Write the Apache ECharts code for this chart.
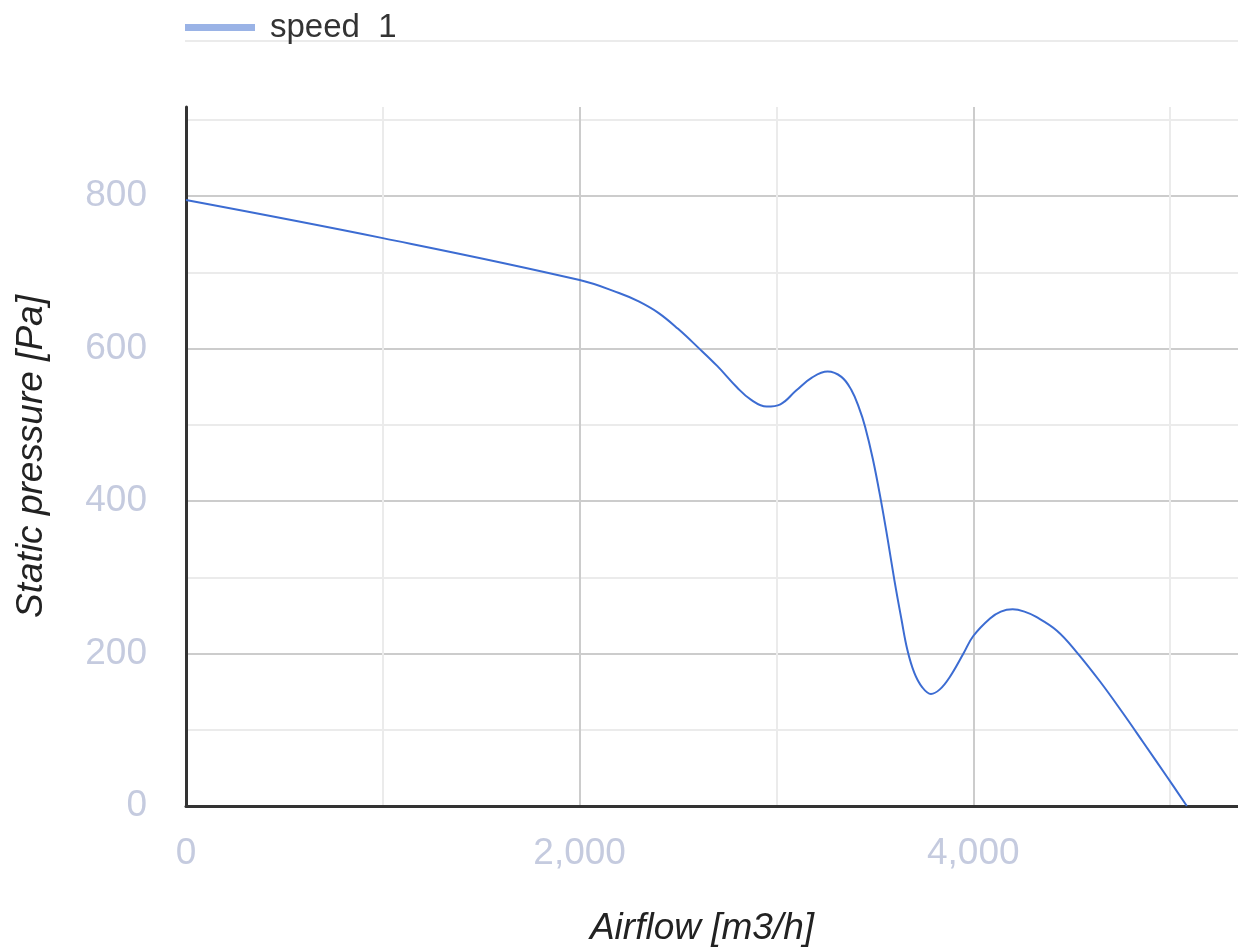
<!DOCTYPE html>
<html>
<head>
<meta charset="utf-8">
<script src="https://cdn.jsdelivr.net/npm/echarts@6/dist/echarts.min.js"></script>
<style>
html,body{margin:0;padding:0;background:#fff;}
#chart{width:1238px;height:949px;}
</style>
</head>
<body>
<div id="chart"></div>
<script>
const seriesName = 'speed  1';
const xTitle = 'Airflow [m3/h]';
const yTitle = 'Static pressure [Pa]';
const airflow = [0, 1000, 2000, 2200, 2300, 2400, 2500, 2600, 2700, 2800, 2870, 2950, 3020, 3100, 3180, 3260, 3330, 3380, 3420, 3450, 3490, 3530, 3565, 3600, 3635, 3665, 3700, 3740, 3785, 3830, 3880, 3950, 4000, 4085, 4140, 4200, 4260, 4320, 4425, 4525, 4645, 4760, 4865, 4985, 5085];
const pressure = [795, 745, 690, 673, 662, 647, 626, 602, 577, 549, 533, 524, 527, 545, 562, 570, 563, 546, 522, 498, 455, 402, 350, 295, 245, 205, 175, 156, 147, 153, 169, 200, 223, 246, 255, 258, 255, 248, 230, 202, 163, 122, 83, 38, 0];
const xTickLabels = [0, 2000, 4000];
const yTickLabels = [0, 200, 400, 600, 800];

const points = airflow.map((x, i) => [x, pressure[i]]);
const font = "'Liberation Sans', Arial, sans-serif";
const chart = echarts.init(document.getElementById('chart'), null, {renderer: 'canvas'});
chart.setOption({
  animation: false,
  backgroundColor: '#ffffff',
  grid: {left: 186, right: 0, top: 107, bottom: 143, containLabel: false, outerBoundsMode: 'none'},
  graphic: [{
    type: 'rect', left: 185, top: 40, shape: {width: 1053, height: 2},
    style: {fill: '#ebebeb'}, silent: true
  }],
  legend: {
    left: 185, top: 11, padding: 0,
    itemWidth: 70, itemHeight: 7,
    data: [{name: seriesName, icon: 'rect', itemStyle: {color: '#9ab3e6'}}],
    textStyle: {fontFamily: font, fontSize: 33, color: '#333', padding: [0, 0, 0, 10]}
  },
  xAxis: {
    type: 'value', min: 0, max: 5345, interval: 1000,
    name: xTitle, nameLocation: 'middle', nameGap: 104,
    nameTextStyle: {fontFamily: font, fontSize: 37, fontStyle: 'italic', color: '#222', padding: [0, 20, 0, 0]},
    axisLine: {show: true, onZero: false, lineStyle: {color: '#333', width: 3}},
    axisTick: {show: false},
    axisLabel: {
      margin: 29, fontFamily: font, fontSize: 37, color: '#c5cbdf',
      showMaxLabel: false,
      formatter: v => xTickLabels.indexOf(v) >= 0 ? v.toLocaleString('en-US') : ''
    },
    splitLine: {show: true, showMaxLine: false, lineStyle: {color: ['#cccccc', '#ebebeb'], width: 2}}
  },
  yAxis: {
    type: 'value', min: 0, max: 917, interval: 100,
    name: yTitle, nameLocation: 'middle', nameGap: 136, nameRotate: 90,
    nameTextStyle: {fontFamily: font, fontSize: 37, fontStyle: 'italic', color: '#222'},
    axisLine: {show: true, onZero: false, lineStyle: {color: '#333', width: 3}},
    axisTick: {show: false},
    axisLabel: {
      margin: 39, fontFamily: font, fontSize: 37, color: '#c5cbdf',
      showMaxLabel: false,
      formatter: v => yTickLabels.indexOf(v) >= 0 ? String(v) : ''
    },
    splitLine: {show: true, showMaxLine: false, lineStyle: {color: ['#cccccc', '#ebebeb'], width: 2}}
  },
  series: [{
    name: seriesName, type: 'line', data: points,
    showSymbol: false, symbol: 'none', smooth: 0.4,
    lineStyle: {color: '#3c6cd2', width: 2},
    itemStyle: {color: '#3c6cd2'}
  }]
});
</script>
</body>
</html>
